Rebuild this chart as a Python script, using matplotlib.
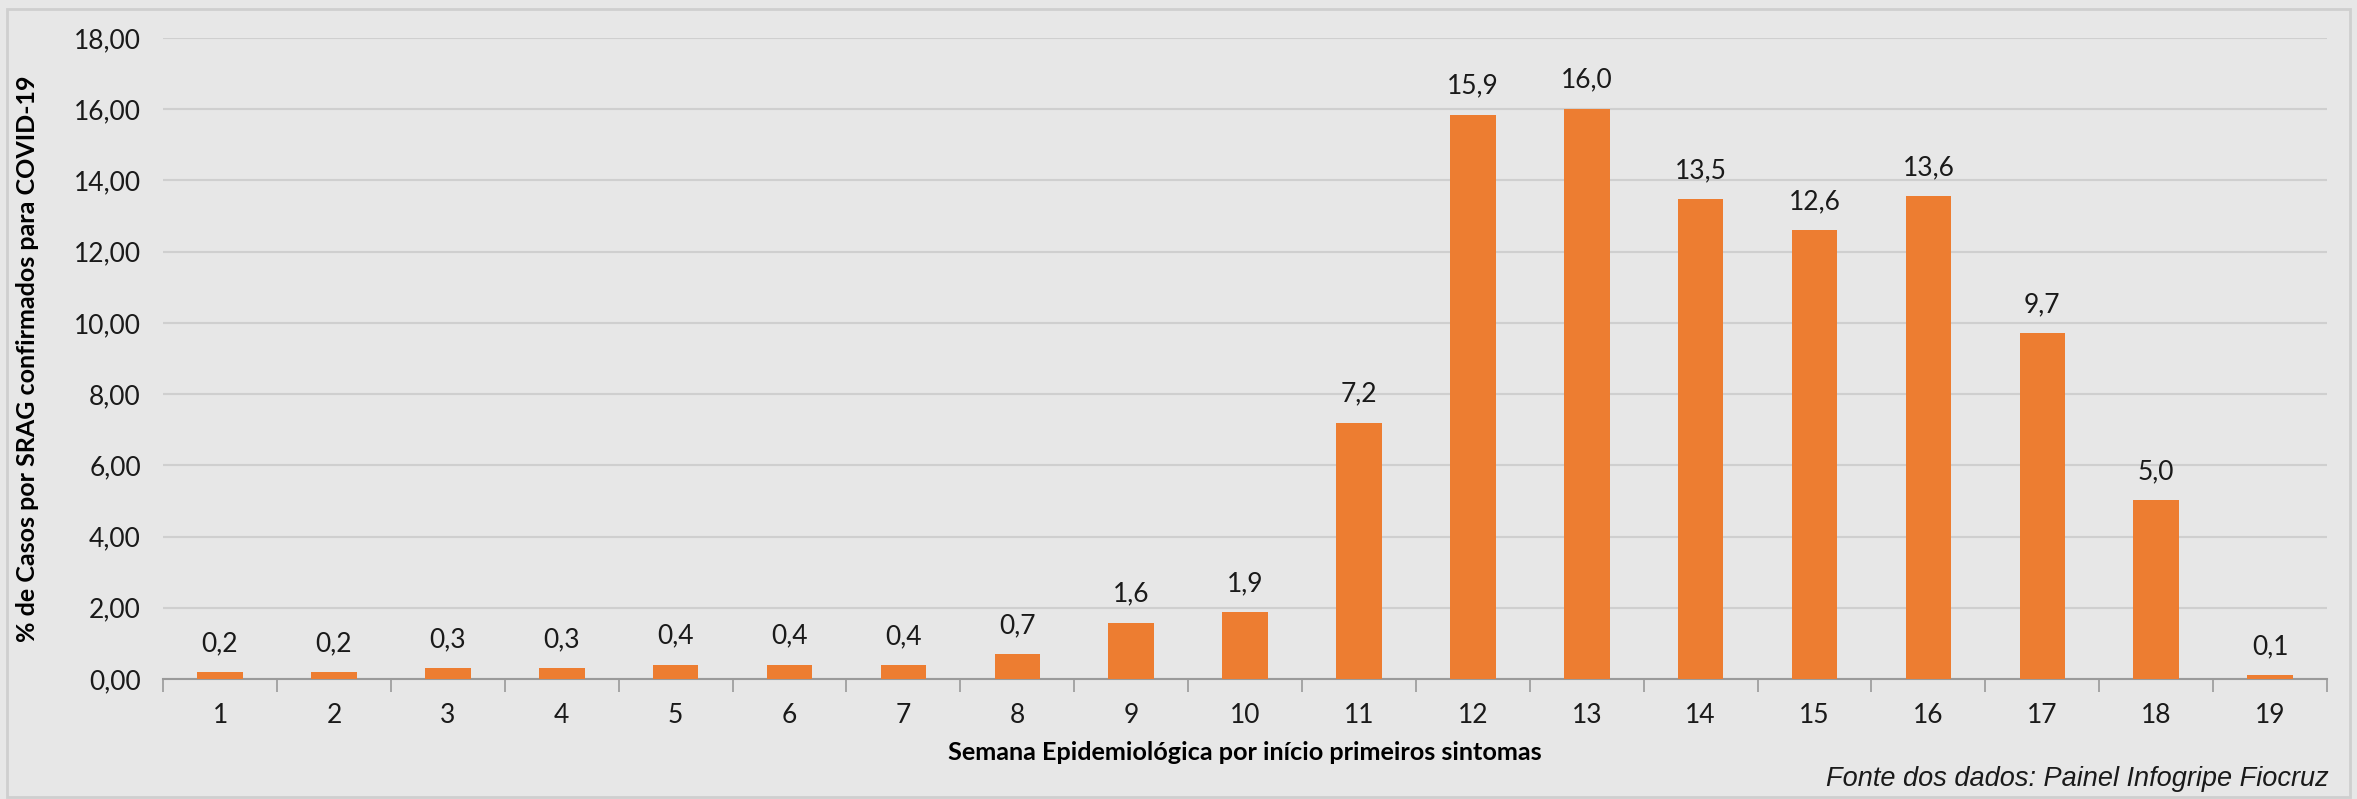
import numpy as np
import matplotlib.pyplot as plt
from matplotlib.patches import Rectangle

# DATA

semanas = [str(i) for i in range(1, 20)]
percentuais = [0.2, 0.2, 0.3, 0.3, 0.4, 0.4, 0.38, 0.7, 1.58, 1.88, 7.2,
               15.85, 16.02, 13.48, 12.6, 13.56, 9.72, 5.02, 0.1]
rotulos = ["0,2", "0,2", "0,3", "0,3", "0,4", "0,4", "0,4", "0,7", "1,6", "1,9",
           "7,2", "15,9", "16,0", "13,5", "12,6", "13,6", "9,7", "5,0", "0,1"]
yticks = np.arange(0, 20, 2)

# STYLE

fundo = '#e7e7e7'
laranja = '#ed7d31'
fs = 19
plt.rcParams['font.family'] = ['Lato', 'DejaVu Sans']

fig = plt.figure(figsize=(23.57, 7.99), dpi=100, facecolor=fundo)
fig.patches.append(Rectangle((0.003, 0.003), 0.994, 0.986, transform=fig.transFigure,
                             fill=False, edgecolor='#cfcfcf', lw=2))
ax = fig.add_axes([0.0692, 0.1502, 0.9181, 0.8022])
ax.set_facecolor(fundo)

x = np.arange(len(semanas))
bars = ax.bar(x, percentuais, width=0.4, color=laranja, zorder=3)

for xi, v, lab in zip(x, percentuais, rotulos):
    ax.text(xi, v + 0.45, lab, ha='center', va='bottom', fontsize=fs, color='#1a1a1a')

ax.set_xlim(-0.5, len(semanas) - 0.5)
ax.set_ylim(0, 18)
ax.set_yticks(yticks)
ax.set_yticklabels([f"{t:.2f}".replace('.', ',') for t in yticks], fontsize=fs)
ax.set_xticks(x)
ax.set_xticklabels(semanas, fontsize=fs)
ax.set_xticks(np.arange(-0.5, len(semanas)), minor=True)

ax.grid(axis='y', color='#cfcfcf', lw=1.5, zorder=0)
ax.tick_params(axis='y', length=0, pad=16, colors='#1a1a1a')
ax.tick_params(axis='x', which='major', length=0, pad=17, colors='#1a1a1a')
ax.tick_params(axis='x', which='minor', length=9, width=1.2, color='#9a9a9a')
for s in ['top', 'right', 'left']:
    ax.spines[s].set_visible(False)
ax.spines['bottom'].set_color('#9a9a9a')
ax.spines['bottom'].set_linewidth(1.5)

ax.set_xlabel('Semana Epidemiológica por início primeiros sintomas', fontsize=18.2,
              fontweight='bold', labelpad=10)
ax.set_ylabel('% de Casos por SRAG confirmados para COVID-19', fontsize=18,
              fontweight='bold', labelpad=25)

fig.text(0.988, 0.025, 'Fonte dos dados: Painel Infogripe Fiocruz', ha='right', va='center',
         fontsize=19.5, style='italic', family=['Liberation Sans', 'DejaVu Sans'], color='#1a1a1a')

fig.savefig('out.png', dpi=100, facecolor=fundo)
